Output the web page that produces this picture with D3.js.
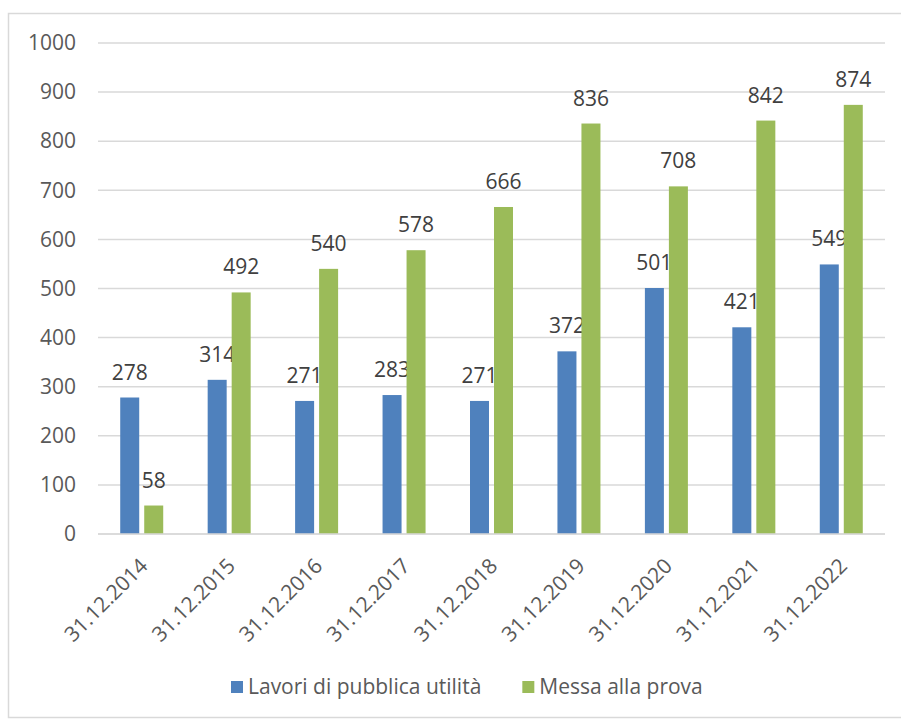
<!DOCTYPE html>
<html>
<head>
<meta charset="utf-8">
<script src="https://cdn.jsdelivr.net/npm/d3@7"></script>
<style>
  body { margin: 0; background: #fff; }
</style>
</head>
<body>
<div id="chart"></div>
<script>
const categories = ["31.12.2014", "31.12.2015", "31.12.2016", "31.12.2017", "31.12.2018",
  "31.12.2019", "31.12.2020", "31.12.2021", "31.12.2022"];
const seriesNames = ["Lavori di pubblica utilità", "Messa alla prova"];
const lavori = [278, 314, 271, 283, 271, 372, 501, 421, 549];
const messa = [58, 492, 540, 578, 666, 836, 708, 842, 874];
const yTicks = [0, 100, 200, 300, 400, 500, 600, 700, 800, 900, 1000];

const colors = ["#4f81bd", "#9bbb59"];
const textColor = "#595959";
const font = "'Open Sans', sans-serif";
const fontSize = "21px";

const width = 901;
const height = 720;
const margin = { top: 43, right: 16, bottom: 186, left: 98 };
const chartWidth = width - margin.left - margin.right;
const chartHeight = height - margin.top - margin.bottom;

const svg = d3
  .select("#chart")
  .append("svg")
  .attr("width", width)
  .attr("height", height)
  .style("font-family", font);

// outer frame
svg
  .append("rect")
  .attr("x", 8.5)
  .attr("y", 13.5)
  .attr("width", 900)
  .attr("height", 704)
  .attr("fill", "none")
  .attr("stroke", "#d9d9d9")
  .attr("stroke-width", 1.5);

const chart = svg
  .append("g")
  .attr("transform", `translate(${margin.left}, ${margin.top})`);

const xScale = d3.scaleBand().domain(categories).range([0, chartWidth]);
const yScale = d3.scaleLinear().domain([0, 1000]).range([chartHeight, 0]);

// gridlines
chart
  .selectAll(".grid")
  .data(yTicks)
  .enter()
  .append("line")
  .attr("x1", 0)
  .attr("x2", chartWidth)
  .attr("y1", (d) => yScale(d))
  .attr("y2", (d) => yScale(d))
  .attr("stroke", "#d9d9d9")
  .attr("stroke-width", 1.5);

// y axis
const yAxis = d3
  .axisLeft(yScale)
  .tickValues(yTicks)
  .tickFormat(d3.format("d"))
  .tickSize(0)
  .tickPadding(22);
const yAxisGroup = chart.append("g").call(yAxis);
yAxisGroup.select(".domain").remove();
yAxisGroup
  .selectAll(".tick text")
  .style("font-family", font)
  .style("font-size", fontSize)
  .style("fill", textColor);

// x axis labels
const xAxis = d3.axisBottom(xScale).tickSize(0).tickPadding(0);
const xAxisGroup = chart
  .append("g")
  .attr("transform", `translate(0, ${chartHeight})`)
  .call(xAxis);
xAxisGroup.select(".domain").remove();
xAxisGroup
  .selectAll(".tick text")
  .attr("text-anchor", "end")
  .attr("dy", "0.35em")
  .attr("transform", "translate(2, 28) rotate(-45)")
  .style("font-family", font)
  .style("font-size", fontSize)
  .style("fill", textColor);

// bars
const barWidth = 19;
const barGap = 5;
const series = [lavori, messa];
series.forEach((values, s) => {
  const offset = s === 0 ? -barGap / 2 - barWidth : barGap / 2;
  const g = chart.append("g");
  g.selectAll("rect")
    .data(values)
    .enter()
    .append("rect")
    .attr("x", (d, i) => xScale(categories[i]) + xScale.bandwidth() / 2 + offset)
    .attr("y", (d) => yScale(d))
    .attr("width", barWidth)
    .attr("height", (d) => chartHeight - yScale(d))
    .attr("fill", colors[s]);
  g.selectAll("text")
    .data(values)
    .enter()
    .append("text")
    .attr("x", (d, i) => xScale(categories[i]) + xScale.bandwidth() / 2 + offset + barWidth / 2)
    .attr("y", (d) => yScale(d) - 18)
    .attr("text-anchor", "middle")
    .style("font-size", fontSize)
    .style("fill", "#404040")
    .text((d) => d);
});

// x axis line
chart
  .append("line")
  .attr("x1", 0)
  .attr("x2", chartWidth)
  .attr("y1", chartHeight)
  .attr("y2", chartHeight)
  .attr("stroke", "#d9d9d9")
  .attr("stroke-width", 1.5);

// legend
const legend = svg.append("g").attr("transform", "translate(231, 687)");
let spacing = 0;
seriesNames.forEach((name, i) => {
  const item = legend.append("g").attr("transform", `translate(${spacing}, 0)`);
  item
    .append("rect")
    .attr("x", 0)
    .attr("y", -6)
    .attr("width", 12)
    .attr("height", 12)
    .attr("fill", colors[i]);
  const label = item
    .append("text")
    .attr("x", 17)
    .attr("y", 0)
    .attr("dy", "0.35em")
    .style("font-size", fontSize)
    .style("fill", textColor)
    .text(name);
  spacing += 17 + label.node().getComputedTextLength() + 41;
});
</script>
</body>
</html>
